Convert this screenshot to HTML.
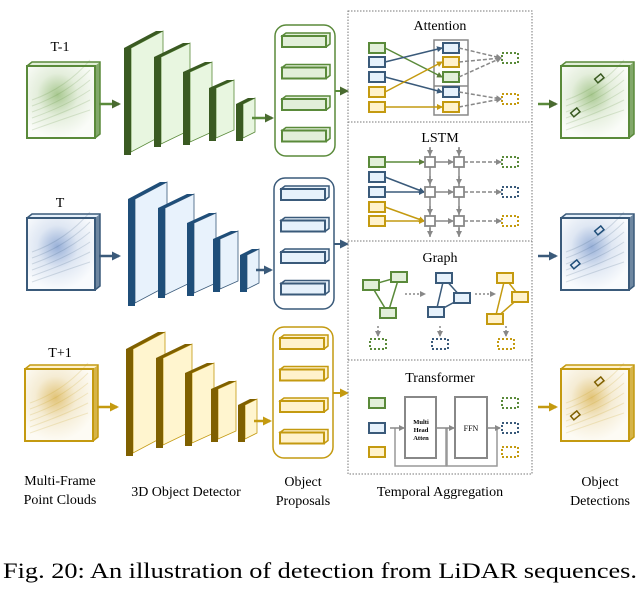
<!DOCTYPE html>
<html><head><meta charset="utf-8"><style>
html,body{margin:0;padding:0;background:#fff;}
svg{display:block;font-family:"Liberation Serif",serif;}
</style></head><body>
<svg id="s" width="642" height="598" viewBox="0 0 642 598" xmlns="http://www.w3.org/2000/svg">
<defs>
<marker id="ag" markerWidth="6" markerHeight="6" refX="5" refY="3" orient="auto" markerUnits="userSpaceOnUse"><path d="M0,0L6,3L0,6z" fill="#5a7d3a"/></marker>
<marker id="ab" markerWidth="6" markerHeight="6" refX="5" refY="3" orient="auto" markerUnits="userSpaceOnUse"><path d="M0,0L6,3L0,6z" fill="#3a5a7a"/></marker>
<marker id="ay" markerWidth="6" markerHeight="6" refX="5" refY="3" orient="auto" markerUnits="userSpaceOnUse"><path d="M0,0L6,3L0,6z" fill="#c49a10"/></marker>
<marker id="ak" markerWidth="6" markerHeight="6" refX="5" refY="3" orient="auto" markerUnits="userSpaceOnUse"><path d="M0,0L6,3L0,6z" fill="#888"/></marker>
<marker id="Ag" markerWidth="9" markerHeight="9" refX="7" refY="4.5" orient="auto" markerUnits="userSpaceOnUse"><path d="M0,0L9,4.5L0,9z" fill="#4a6b30"/></marker>
<marker id="Ab" markerWidth="9" markerHeight="9" refX="7" refY="4.5" orient="auto" markerUnits="userSpaceOnUse"><path d="M0,0L9,4.5L0,9z" fill="#3a5a7a"/></marker>
<marker id="Ay" markerWidth="9" markerHeight="9" refX="7" refY="4.5" orient="auto" markerUnits="userSpaceOnUse"><path d="M0,0L9,4.5L0,9z" fill="#c49a10"/></marker>
<radialGradient id="pg" cx="0.45" cy="0.4" r="0.6"><stop offset="0" stop-color="#a8c890"/><stop offset="0.5" stop-color="#e4eedc"/><stop offset="1" stop-color="#fafcf8"/></radialGradient>
<radialGradient id="pb" cx="0.45" cy="0.4" r="0.6"><stop offset="0" stop-color="#98b0d8"/><stop offset="0.5" stop-color="#dfe7f3"/><stop offset="1" stop-color="#f9fbfd"/></radialGradient>
<radialGradient id="py" cx="0.45" cy="0.4" r="0.6"><stop offset="0" stop-color="#e2c478"/><stop offset="0.5" stop-color="#f5ecd4"/><stop offset="1" stop-color="#fdfbf4"/></radialGradient>
</defs>
<g id="g"></g>
<g font-size="14" fill="#000" text-anchor="middle">
<text x="60" y="51">T-1</text>
<text x="60" y="207">T</text>
<text x="60" y="357">T+1</text>
<text x="60" y="485">Multi-Frame</text>
<text x="60" y="504">Point Clouds</text>
<text x="186" y="496">3D Object Detector</text>
<text x="303" y="486">Object</text>
<text x="303" y="505">Proposals</text>
<text x="440" y="496">Temporal Aggregation</text>
<text x="600" y="486">Object</text>
<text x="600" y="505">Detections</text>
<text x="440" y="30" font-size="14">Attention</text>
<text x="440" y="142" font-size="14">LSTM</text>
<text x="440" y="262" font-size="14">Graph</text>
<text x="440" y="382" font-size="14">Transformer</text>
<text x="421" y="424" font-size="6.5" font-weight="bold">Multi</text>
<text x="421" y="432" font-size="6.5" font-weight="bold">Head</text>
<text x="421" y="440" font-size="6.5" font-weight="bold">Atten</text>
<text x="471" y="431" font-size="8">FFN</text>
</g>
<text x="3" y="578" font-size="22" font-family="Liberation Serif, serif" textLength="634" lengthAdjust="spacingAndGlyphs">Fig. 20: An illustration of detection from LiDAR sequences.</text>
</svg>
<script>
const G=document.getElementById('g');let h='';
const C={g:{s:'#5a8a3a',f:'#e2efd9',d:'#3a5a22',lf:'#e8f6e0',a:'Ag',m:'ag',pc:'pg'},
b:{s:'#3a5a7a',f:'#e6f1fb',d:'#1f4e79',lf:'#e8f2fc',a:'Ab',m:'ab',pc:'pb'},
y:{s:'#c49a10',f:'#fff2cc',d:'#7f6000',lf:'#fff5cf',a:'Ay',m:'ay',pc:'py'}};
function cube(x,y,w,hh,c,det){h+=`<path d="M${x},${y}l5,-4h${w}v${hh}l-5,4z" fill="${c.f}" stroke="${c.s}" stroke-width="1.5"/>`;
h+=`<path d="M${x+w},${y}l5,-4v${hh}l-5,4z" fill="${c.s}" opacity="0.7"/>`;
h+=`<rect x="${x}" y="${y}" width="${w}" height="${hh}" fill="url(#${c.pc})" stroke="${c.s}" stroke-width="2"/>`;
for(let i=0;i<6;i++)h+=`<path d="M${x+5},${y+hh-8-i*6}q${w/2},-12 ${w-10},-${20+i*4}" fill="none" stroke="${c.s}" stroke-opacity="0.18"/>`;
if(det){h+=`<rect x="${x+34}" y="${y+10}" width="8" height="5" transform="rotate(-40 ${x+38} ${y+12})" fill="none" stroke="${c.d}" stroke-width="1.5"/><rect x="${x+10}" y="${y+44}" width="8" height="5" transform="rotate(-40 ${x+14} ${y+46})" fill="none" stroke="${c.d}" stroke-width="1.5"/>`;}}
function row(c,dx,dy,pcx,pcy,prx,pry){
cube(pcx,pcy,68,72,c,false);
const L=[[124,48,107,32,17],[154,57,90,29,14],[183,72,73,22,10],[209,88,53,18,8],[236,104,37,12,6]];
for(const[x0,y0,H,ddx,ddy] of L){const x=x0+dx,y=y0+dy;
h+=`<path d="M${x+7},${y}l${ddx},-${ddy}v${H-3}l-${ddx},${ddy}z" fill="${c.lf}" stroke="${c.s}" stroke-width="0.8"/>`;
h+=`<path d="M${x},${y}l${ddx},-${ddy}h7l-${ddx},${ddy}z" fill="${c.d}"/>`;
h+=`<rect x="${x}" y="${y}" width="7" height="${H}" fill="${c.d}"/>`;}
h+=`<rect x="${prx}" y="${pry}" width="60" height="131" rx="11" fill="none" stroke="${c.s}" stroke-width="1.5"/>`;
for(let i=0;i<4;i++){const by=pry+11+i*31.5;h+=`<path d="M${prx+7},${by}l4,-3h44v11l-4,3z" fill="${c.f}" stroke="${c.s}" stroke-width="1.5"/><rect x="${prx+7}" y="${by}" width="44" height="11" fill="${c.f}" stroke="${c.s}" stroke-width="2"/>`;}
const cy=pcy+38;
h+=`<line x1="${pcx+72}" y1="${cy}" x2="${pcx+92}" y2="${cy}" stroke="${c.s}" stroke-width="2.5" marker-end="url(#${c.a})"/>`;
h+=`<line x1="${252+dx}" y1="${cy+14}" x2="${prx-3}" y2="${cy+14}" stroke="${c.s}" stroke-width="2.5" marker-end="url(#${c.a})"/>`;
h+=`<line x1="${prx+60}" y1="${pry+66}" x2="347" y2="${pry+66}" stroke="${c.s}" stroke-width="2" marker-end="url(#${c.a})"/>`;
h+=`<line x1="538" y1="${cy}" x2="556" y2="${cy}" stroke="${c.s}" stroke-width="2.5" marker-end="url(#${c.a})"/>`;
cube(561,pcy,68,72,c,true);}
row(C.g,0,0,27,66,275,25);row(C.b,4,151,27,218,274,178);row(C.y,2,301,25,369,273,327);
h+=`<rect x="348" y="11" width="184" height="463" fill="none" stroke="#777" stroke-dasharray="1.5,1.5"/>`;
for(const yy of [122,241,360])h+=`<line x1="348" y1="${yy}" x2="532" y2="${yy}" stroke="#777" stroke-dasharray="1.5,1.5"/>`;
function bx(x,y,c,w=16,hh=10){h+=`<rect x="${x}" y="${y-hh/2}" width="${w}" height="${hh}" fill="${c.f}" stroke="${c.s}" stroke-width="2"/>`;}
function dbx(x,y,c){h+=`<rect x="${x}" y="${y-5}" width="16" height="10" fill="none" stroke="${c.s}" stroke-width="2" stroke-dasharray="2,2"/>`;}
function ar(x1,y1,x2,y2,c,dash){h+=`<line x1="${x1}" y1="${y1}" x2="${x2}" y2="${y2}" stroke="${c.s||c}" stroke-width="1.5" ${dash?'stroke-dasharray="'+dash+'"':''} marker-end="url(#${c.m||'ak'})"/>`;}
const ay=[48,62,77,92,107],ic=[C.g,C.b,C.b,C.y,C.y],mc=[C.b,C.y,C.g,C.b,C.y];
h+=`<rect x="434" y="40" width="34" height="75" fill="none" stroke="#888" stroke-width="1.5"/><line x1="434" y1="86" x2="468" y2="86" stroke="#888" stroke-width="1.5"/>`;
const map=[2,0,3,1,4];
for(let i=0;i<5;i++){ar(385,ay[i],442,ay[map[i]],ic[i]);}
for(let i=0;i<5;i++){bx(369,ay[i],ic[i]);bx(443,ay[i],mc[i]);}
for(let i=0;i<3;i++)ar(459,ay[i],501,58,{s:'#888',m:'ak'},'4,2');
for(let i=3;i<5;i++)ar(459,ay[i],501,99,{s:'#888',m:'ak'},'4,2');
dbx(502,58,C.g);dbx(502,99,C.y);
const ly=[162,177,192,207,221],ry=[162,192,221];
for(const x of [430,459]){h+=`<line x1="${x}" y1="148" x2="${x}" y2="237" stroke="#888" stroke-width="1.5"/>`;for(const y of [155,184,214,236])ar(x,y-8,x,y,{s:'#888',m:'ak'});}
for(let r=0;r<3;r++){ar(435,ry[r],453,ry[r],{s:'#888',m:'ak'});ar(464,ry[r],501,ry[r],{s:'#888',m:'ak'},'4,2');}
ar(385,162,424,162,C.g);ar(385,177,424,192,C.b);ar(385,192,424,192,C.b);ar(385,207,424,221,C.y);ar(385,221,424,221,C.y);
for(let i=0;i<5;i++)bx(369,ly[i],ic[i]);
for(const x of [430,459])for(const y of ry)h+=`<rect x="${x-5}" y="${y-5}" width="10" height="10" fill="#fff" stroke="#888" stroke-width="1.8"/>`;
dbx(502,162,C.g);dbx(502,192,C.b);dbx(502,221,C.y);
h+=`<path d="M371,285L399,277M371,285L388,313M399,277L388,313" stroke="${C.g.s}" stroke-width="1.5"/>`;
for(const q of [[363,280],[391,272],[380,308]])bx(q[0],q[1]+5,C.g);
h+=`<path d="M444,278L462,298L436,312Z" fill="none" stroke="${C.b.s}" stroke-width="1.5"/>`;
for(const q of [[436,273],[454,293],[428,307]])bx(q[0],q[1]+5,C.b);
h+=`<path d="M505,278L520,297L495,319Z" fill="none" stroke="${C.y.s}" stroke-width="1.5"/>`;
for(const q of [[497,273],[512,292],[487,314]])bx(q[0],q[1]+5,C.y);
ar(405,294,425,294,{s:'#888',m:'ak'},'2,2');ar(475,294,495,294,{s:'#888',m:'ak'},'2,2');
for(const x of [378,440,506]){ar(x,326,x,336,{s:'#888',m:'ak'},'2,2');}
dbx(370,344,C.g);dbx(432,344,C.b);dbx(498,344,C.y);
bx(369,403,C.g);bx(369,428,C.b);bx(369,452,C.y);
h+=`<rect x="405" y="397" width="31" height="61" fill="#fff" stroke="#888" stroke-width="2"/><rect x="455" y="397" width="32" height="61" fill="#fff" stroke="#888" stroke-width="2"/>`;
h+=`<path d="M395,428V466H446V428" fill="none" stroke="#999" stroke-width="1.5"/><path d="M447,428V466H497V428" fill="none" stroke="#999" stroke-width="1.5"/>`;
ar(390,428,404,428,{s:'#888',m:'ak'});ar(436,428,454,428,{s:'#888',m:'ak'});ar(487,428,500,428,{s:'#888',m:'ak'});
dbx(502,403,C.g);dbx(502,428,C.b);dbx(502,452,C.y);
G.innerHTML=h;
</script>
</body></html>
